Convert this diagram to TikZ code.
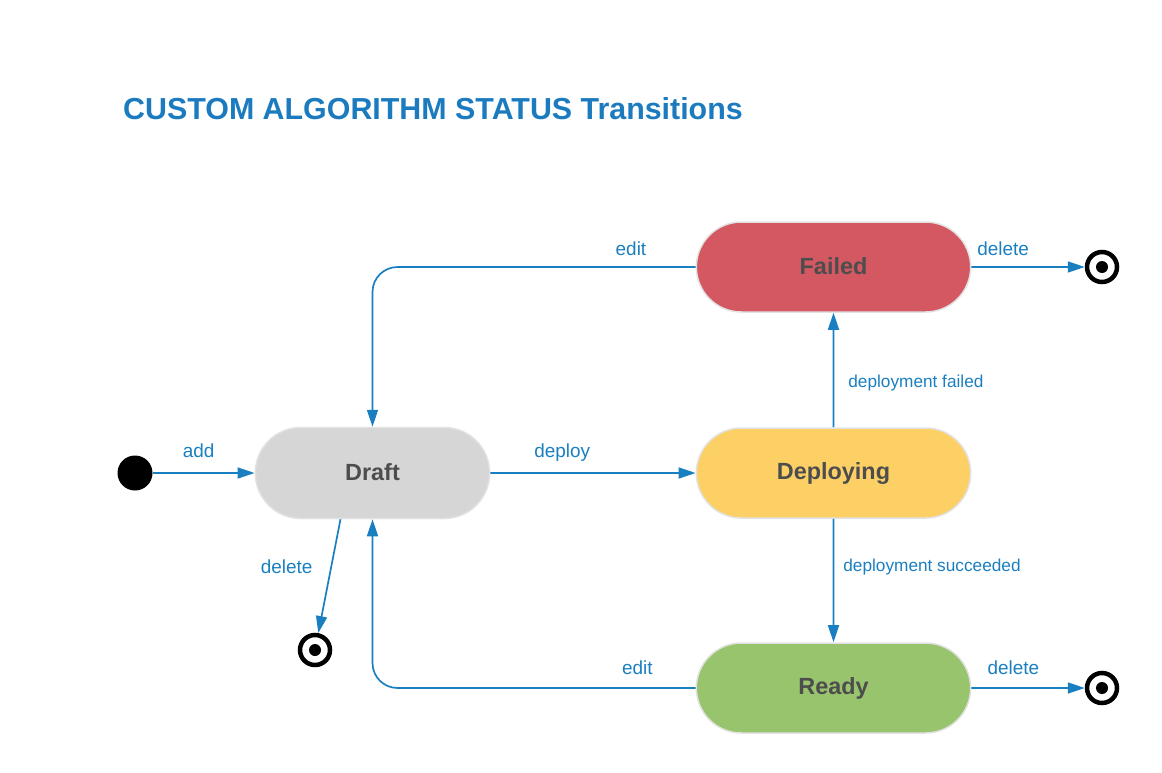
\documentclass[tikz,border=0pt]{standalone}
\usepackage{fontspec}
\setmainfont{Liberation Sans}
\usepackage{tikz}
\usetikzlibrary{arrows.meta,shapes.misc}
\definecolor{flowblue}{HTML}{1A7FC1}
\definecolor{titleblue}{HTML}{1B7BBE}
\definecolor{failedred}{HTML}{D35862}
\definecolor{deployyellow}{HTML}{FDD066}
\definecolor{readygreen}{HTML}{99C46E}
\definecolor{draftgray}{HTML}{D6D6D6}
\definecolor{statetext}{HTML}{4D4D4D}
\definecolor{stateborder}{HTML}{E2E2E2}

\tikzset{
  state/.style={draw=stateborder,line width=1.5bp,rounded rectangle,minimum width=281bp,minimum height=90bp,text=statetext,font=\fontsize{23.5}{28}\selectfont\bfseries},
  initstate/.style={circle,fill=black,minimum size=35bp,inner sep=0pt},
  endstate/.style={circle,draw=black,line width=4.5bp,minimum size=30bp,inner sep=0pt,path picture={\fill[black] (path picture bounding box.center) circle (6bp);}},
  flow/.style={-{Triangle[length=17bp,width=11bp]},draw=flowblue,line width=1.7bp},
  lbl/.style={text=flowblue,font=\fontsize{19}{22}\selectfont,inner sep=2bp,text depth=0pt},
  sidelbl/.style={text=flowblue,font=\fontsize{17.3}{20}\selectfont,inner sep=2bp,text depth=0pt}
}

\begin{document}
\begin{tikzpicture}

\useasboundingbox (0bp,0bp) rectangle (1162bp,-773bp);

\node (title) at (123bp,-109bp)[anchor=west,inner sep=0pt,text=titleblue,font=\fontsize{30.5}{36}\selectfont\bfseries] {CUSTOM ALGORITHM STATUS Transitions};

\node (init) at (135bp,-473bp)[initstate] {};
\node (Draft) at (372.5bp,-473bp)[state,fill=draftgray,minimum width=241bp,minimum height=91bp] {\raisebox{2bp}{Draft}};
\node (Deploying) at (833.5bp,-473bp)[state,fill=deployyellow] {\raisebox{1bp}{Deploying}};
\node (Failed) at (833.5bp,-267bp)[state,fill=failedred] {\raisebox{2bp}{Failed}};
\node (Ready) at (833.5bp,-688bp)[state,fill=readygreen] {\raisebox{1bp}{Ready}};
\node (endFailed) at (1102bp,-267bp)[endstate] {};
\node (endReady) at (1102bp,-688bp)[endstate] {};
\node (endDraft) at (315bp,-650bp)[endstate] {};

\draw [flow] (init) -- node[lbl,pos=0.45,above=13bp] {add} (Draft);
\draw [flow] (Draft) -- node[lbl,pos=0.35,above=13bp] {deploy} (Deploying);
\draw [flow] (Deploying) -- node[sidelbl,pos=0.405,right=12bp] {deployment failed} (Failed);
\draw [flow] (Deploying) -- node[sidelbl,pos=0.376,right=7bp] {deployment succeeded} (Ready);
\draw [flow,rounded corners=25bp] (Failed.west) -| node[lbl,pos=0.1,above=9bp] {edit} (Draft.north);
\draw [flow,rounded corners=25bp] (Ready.west) -| node[lbl,pos=0.09,above=11bp] {edit} (Draft.south);
\draw [flow] (Failed) -- node[lbl,pos=0.28,above=9bp] {delete} (endFailed);
\draw [flow] (Ready) -- node[lbl,pos=0.37,above=11bp] {delete} (endReady);
\draw [flow] ([xshift=-32bp]Draft.south) -- node[lbl,pos=0.42,left=16bp] {delete} (endDraft);
\end{tikzpicture}
\end{document}
